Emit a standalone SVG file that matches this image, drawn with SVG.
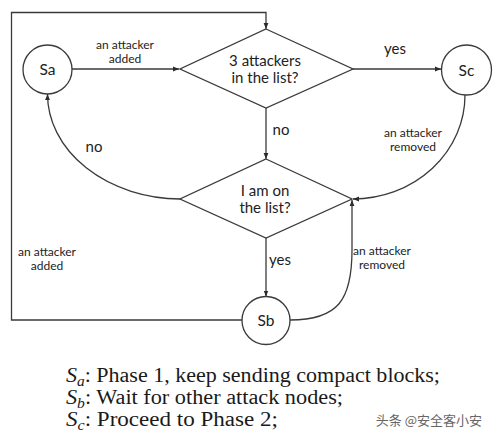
<svg xmlns="http://www.w3.org/2000/svg" width="495" height="440" viewBox="0 0 495 440">
<style>
.ln{fill:none;stroke:#3a3a3a;stroke-width:1.3}
.nd{fill:#fff;stroke:#3a3a3a;stroke-width:1.3}
.t{font-family:Lato,"Open Sans",sans-serif;fill:#222;text-anchor:middle}
.big{font-size:15.5px}
.dt{font-size:15px}
.lb{font-size:12px}
.yn{font-size:15px}
.cap{font-family:"Liberation Serif","Times New Roman",serif;font-size:20px;fill:#1a1a1a}
.it{font-style:italic}
</style>
<defs>
<marker id="ah" viewBox="0 0 10 10" refX="10" refY="5" markerWidth="6" markerHeight="6" orient="auto" markerUnits="userSpaceOnUse">
<path d="M0,1 L10,5 L0,9 z" fill="#2b2b2b"/>
</marker>
</defs>
<rect width="495" height="440" fill="#fff"/>
<g id="connectors">
<path class="ln" d="M72,69 L179,69" marker-end="url(#ah)"/>
<path class="ln" d="M353,69 L441,69" marker-end="url(#ah)"/>
<path class="ln" d="M266,108 L266,159" marker-end="url(#ah)"/>
<path class="ln" d="M266,238 L266,296.5" marker-end="url(#ah)"/>
<path class="ln" d="M242,320 L11.5,320 L11.5,12.5 L266,12.5 L266,29" marker-end="url(#ah)"/>
<path class="ln" d="M180,199 A134,105 0 0 1 47.5,94" marker-end="url(#ah)"/>
<path class="ln" d="M465,95 A112,104 0 0 1 353,199" marker-end="url(#ah)"/>
<path class="ln" d="M290,320 C338,320 352,300 352,250 L352,200" marker-end="url(#ah)"/>
<text class="t lb" x="125" y="49">an attacker</text>
<text class="t lb" x="125" y="63">added</text>
<text class="t yn" x="395" y="54">yes</text>
<text class="t yn" x="281" y="135">no</text>
<text class="t yn" x="94" y="152">no</text>
<text class="t lb" x="413" y="137">an attacker</text>
<text class="t lb" x="413" y="151">removed</text>
<text class="t yn" x="280" y="265">yes</text>
<text class="t lb" x="382" y="255">an attacker</text>
<text class="t lb" x="382" y="269">removed</text>
<text class="t lb" x="47" y="256">an attacker</text>
<text class="t lb" x="47" y="270">added</text>
</g>
<g id="Sa">
<circle class="nd" cx="47.5" cy="69.5" r="24.5"/>
<text class="t big" x="47.5" y="75">Sa</text>
</g>
<g id="Sc">
<circle class="nd" cx="466.5" cy="70" r="25"/>
<text class="t big" x="466.5" y="75.5">Sc</text>
</g>
<g id="Sb">
<circle class="nd" cx="266" cy="320.5" r="24"/>
<text class="t big" x="266" y="326">Sb</text>
</g>
<g id="d1">
<polygon class="nd" points="266,29 353,69 266,108 180,69"/>
<text class="t dt" x="265" y="66">3 attackers</text>
<text class="t dt" x="265" y="83">in the list?</text>
</g>
<g id="d2">
<polygon class="nd" points="266,159 352,199 266,238 180,199"/>
<text class="t dt" x="265" y="196">I am on</text>
<text class="t dt" x="265" y="213">the list?</text>
</g>
<g id="legend">
<text class="cap" x="66" y="382" textLength="374" lengthAdjust="spacingAndGlyphs"><tspan class="it">S</tspan><tspan class="it" font-size="14" dy="4">a</tspan><tspan dy="-4">: Phase 1, keep sending compact blocks;</tspan></text>
<text class="cap" x="66" y="404" textLength="277" lengthAdjust="spacingAndGlyphs"><tspan class="it">S</tspan><tspan class="it" font-size="14" dy="4">b</tspan><tspan dy="-4">: Wait for other attack nodes;</tspan></text>
<text class="cap" x="66" y="426" textLength="212" lengthAdjust="spacingAndGlyphs"><tspan class="it">S</tspan><tspan class="it" font-size="14" dy="4">c</tspan><tspan dy="-4">: Proceed to Phase 2;</tspan></text>
</g>
<text x="482" y="425" font-family="'Noto Sans CJK SC',sans-serif" font-size="13" fill="#666" text-anchor="end">头条 @安全客小安</text>
</svg>
